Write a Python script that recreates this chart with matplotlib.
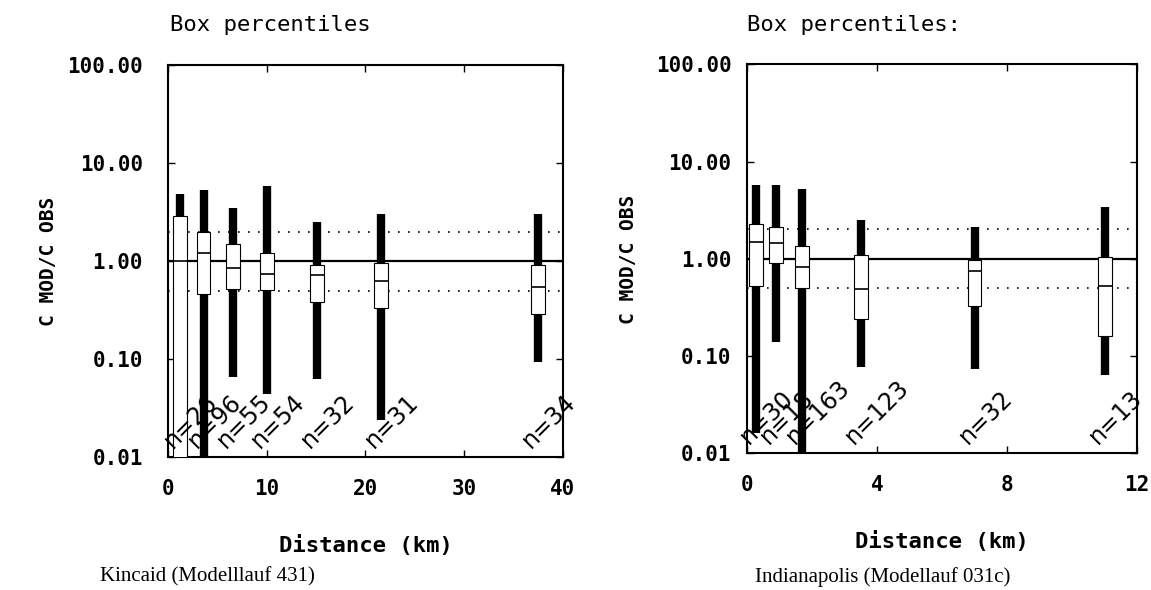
import matplotlib
matplotlib.use('Agg')
import matplotlib.pyplot as plt
from matplotlib.patches import Rectangle

# Kincaid (Modelllauf 431)
k_dist = [1.2, 3.6, 6.6, 10.0, 15.1, 21.6, 37.5]
k_hi = [4.9, 5.3, 3.5, 5.8, 2.5, 3.0, 3.0]
k_q3 = [2.9, 2.0, 1.5, 1.2, 0.92, 0.95, 0.91]
k_med = [1.0, 1.2, 0.85, 0.74, 0.72, 0.62, 0.55]
k_q1 = [0.009, 0.46, 0.52, 0.51, 0.38, 0.33, 0.29]
k_lo = [0.009, 0.008, 0.066, 0.044, 0.062, 0.024, 0.094]
k_n = [26, 96, 55, 54, 32, 31, 34]

# Indianapolis (Modelllauf 031c)
i_dist = [0.28, 0.9, 1.7, 3.5, 7.0, 11.0]
i_hi = [5.8, 5.7, 5.2, 2.5, 2.1, 3.4]
i_q3 = [2.3, 2.1, 1.36, 1.1, 0.97, 1.05]
i_med = [1.5, 1.45, 0.83, 0.49, 0.75, 0.53]
i_q1 = [0.53, 0.91, 0.5, 0.24, 0.33, 0.16]
i_lo = [0.016, 0.14, 0.009, 0.077, 0.074, 0.063]
i_n = [30, 18, 163, 123, 32, 13]

yticks = [0.01, 0.1, 1, 10, 100]
ylabels = ['0.01', '0.10', '1.00', '10.00', '100.00']

mono = 'DejaVu Sans Mono'

fig = plt.figure(figsize=(11.51, 5.9), dpi=100)


def panel(rect, dist, hi, q3, med, q1, lo, n, xmax, xticks, boxw, tickpad):
    ax = fig.add_axes(rect)
    ax.set_yscale('log')
    ax.set_ylim(0.01, 100)
    ax.set_xlim(0, xmax)
    # Referenzlinien
    ax.axhline(1.0, color='black', lw=1.6, zorder=1)
    ax.axhline(2.0, color='black', lw=1.2, ls=(0, (1, 5)), zorder=1)
    ax.axhline(0.5, color='black', lw=1.2, ls=(0, (1, 5)), zorder=1)
    for i in range(len(dist)):
        # Whisker als dicker Balken
        ax.vlines(dist[i], lo[i], hi[i], color='black', lw=6, zorder=2)
        ax.add_patch(Rectangle((dist[i] - boxw / 2, q1[i]), boxw, q3[i] - q1[i],
                               facecolor='white', edgecolor='black', lw=0.8, zorder=3))
        ax.hlines(med[i], dist[i] - boxw / 2, dist[i] + boxw / 2, color='black', lw=1.2, zorder=4)
        ax.annotate('n=%d' % n[i], xy=(dist[i], 0.01), xytext=(-5, 6), textcoords='offset points',
                    rotation=45, rotation_mode='anchor', ha='left', va='baseline',
                    fontsize=17, family='DejaVu Sans', zorder=5)
    ax.set_yticks(yticks)
    ax.set_yticklabels(ylabels)
    ax.minorticks_off()
    ax.set_xticks(xticks)
    ax.tick_params(direction='in', length=5, width=1, top=True, right=True)
    ax.tick_params(axis='y', pad=tickpad)
    ax.tick_params(axis='x', pad=16)
    for lab in ax.get_xticklabels() + ax.get_yticklabels():
        lab.set_family(mono)
        lab.set_fontweight('bold')
        lab.set_fontsize(15)
    for s in ax.spines.values():
        s.set_linewidth(1.5)
    ax.set_xlabel('Distance (km)', family=mono, fontweight='bold', fontsize=16, labelpad=26)
    return ax


ax1 = panel([0.146, 0.2254, 0.343, 0.664], k_dist, k_hi, k_q3, k_med, k_q1, k_lo, k_n,
            40, [0, 10, 20, 30, 40], 1.4, 18)
ax2 = panel([0.649, 0.232, 0.339, 0.659], i_dist, i_hi, i_q3, i_med, i_q1, i_lo, i_n,
            12, [0, 4, 8, 12], 0.42, 11)

fig.text(170 / 1151, 1 - 25 / 590, 'Box percentiles', family=mono, fontsize=16, va='center', ha='left')
fig.text(747 / 1151, 1 - 25 / 590, 'Box percentiles:', family=mono, fontsize=16, va='center', ha='left')
fig.text(48 / 1151, 1 - 261 / 590, 'C MOD/C OBS', family=mono, fontweight='bold', fontsize=14,
         rotation=90, va='center', ha='center')
fig.text(628 / 1151, 1 - 259 / 590, 'C MOD/C OBS', family=mono, fontweight='bold', fontsize=14,
         rotation=90, va='center', ha='center')
fig.text(100 / 1151, 1 - 577 / 590, 'Kincaid (Modelllauf 431)', family='Liberation Serif',
         fontsize=15, va='center', ha='left')
fig.text(755 / 1151, 1 - 577 / 590, 'Indianapolis (Modellauf 031c)', family='Liberation Serif',
         fontsize=15, va='center', ha='left')

fig.savefig('out.png', dpi=100)
